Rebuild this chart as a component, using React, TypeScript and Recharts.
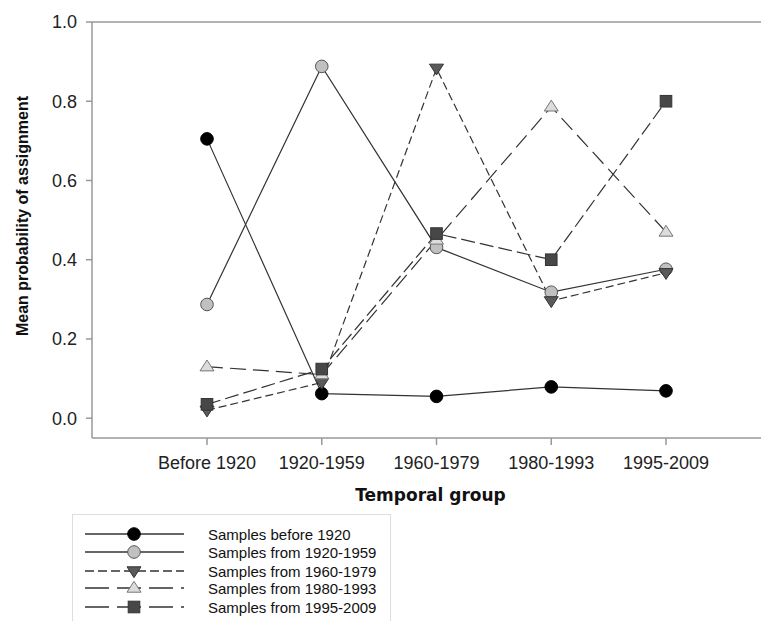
import React from 'react';
import { LineChart, Line, XAxis, YAxis, ReferenceLine, Legend } from 'recharts';

const categories = ['Before 1920', '1920-1959', '1960-1979', '1980-1993', '1995-2009'];
const before1920 = [0.705, 0.062, 0.055, 0.079, 0.069];
const from1920 = [0.287, 0.888, 0.431, 0.318, 0.376];
const from1960 = [0.02, 0.09, 0.883, 0.296, 0.367];
const from1980 = [0.13, 0.11, 0.45, 0.786, 0.47];
const from1995 = [0.035, 0.124, 0.466, 0.4, 0.8];
const yTicks = [0, 0.2, 0.4, 0.6, 0.8, 1.0];

const seriesNames = [
  'Samples before 1920',
  'Samples from 1920-1959',
  'Samples from 1960-1979',
  'Samples from 1980-1993',
  'Samples from 1995-2009',
];

const data = categories.map((c, i) => ({
  cat: c,
  s1: before1920[i],
  s2: from1920[i],
  s3: from1960[i],
  s4: from1980[i],
  s5: from1995[i],
}));

type MarkerKind = 'blackCircle' | 'grayCircle' | 'downTri' | 'upTri' | 'square';

const Marker = ({ kind, cx, cy }: { kind: MarkerKind; cx: number; cy: number }) => {
  if (kind === 'blackCircle') return <circle cx={cx} cy={cy} r={6.3} fill="#000" stroke="#000" strokeWidth={1} />;
  if (kind === 'grayCircle') return <circle cx={cx} cy={cy} r={6.3} fill="#c0c0c0" stroke="#555" strokeWidth={1} />;
  if (kind === 'downTri') {
    const s = 7;
    return (
      <polygon
        points={`${cx - s},${cy - s * 0.6} ${cx + s},${cy - s * 0.6} ${cx},${cy + s * 0.95}`}
        fill="#5a5a5a"
        stroke="#333"
        strokeWidth={1}
      />
    );
  }
  if (kind === 'upTri') {
    const s = 7;
    return (
      <polygon
        points={`${cx - s},${cy + s * 0.6} ${cx + s},${cy + s * 0.6} ${cx},${cy - s * 0.95}`}
        fill="#dcdcdc"
        stroke="#777"
        strokeWidth={1}
      />
    );
  }
  return <rect x={cx - 5.8} y={cy - 5.8} width={11.6} height={11.6} fill="#474747" stroke="#333" strokeWidth={1} />;
};

const makeDot = (kind: MarkerKind) => (props: any) => {
  const { cx, cy, index } = props;
  if (cx == null || cy == null) return <g key={index} />;
  return <Marker key={index} kind={kind} cx={cx} cy={cy} />;
};

const seriesDefs: { key: string; kind: MarkerKind; dash?: string; legendDash?: string }[] = [
  { key: 's1', kind: 'blackCircle' },
  { key: 's2', kind: 'grayCircle' },
  { key: 's3', kind: 'downTri', dash: '8 4', legendDash: '9 4' },
  { key: 's4', kind: 'upTri', dash: '16 7', legendDash: '24 8' },
  { key: 's5', kind: 'square', dash: '14 5', legendDash: '24 8' },
];

const LegendBox = () => {
  const rowY = [19, 37, 56, 73, 92];
  return (
    <div
      style={{
        width: 319,
        height: 112,
        borderLeft: '1.5px solid #dedede',
        borderRight: '1.5px solid #dedede',
        borderTop: '1.5px solid #dedede',
        background: '#fff',
        boxSizing: 'border-box',
        position: 'relative',
      }}
    >
      <svg width={319} height={112} style={{ position: 'absolute', left: 0, top: 0 }}>
        {seriesDefs.map((s, i) => (
          <g key={s.key}>
            <line
              x1={12}
              x2={111}
              y1={rowY[i]}
              y2={rowY[i]}
              stroke="#333"
              strokeWidth={1.3}
              strokeDasharray={s.legendDash}
            />
            <Marker kind={s.kind} cx={61} cy={rowY[i]} />
            <text
              x={135}
              y={rowY[i] + 5.5}
              fontFamily="'Liberation Sans', Arial, sans-serif"
              fontSize={15}
              fill="#111"
            >
              {seriesNames[i]}
            </text>
          </g>
        ))}
      </svg>
    </div>
  );
};

const YLabel = (props: any) => {
  const vb = props.viewBox || {};
  const x = (vb.x ?? 0) + 14;
  const y = (vb.y ?? 0) + (vb.height ?? 0) / 2 - 14;
  return (
    <text
      x={x}
      y={y}
      transform={`rotate(-90, ${x}, ${y})`}
      textAnchor="middle"
      dominantBaseline="central"
      fontFamily="'Liberation Sans', Arial, sans-serif"
      fontWeight="bold"
      fontSize={16}
      fill="#111"
    >
      Mean probability of assignment
    </text>
  );
};

const XLabel = (props: any) => {
  const vb = props.viewBox || {};
  const x = (vb.x ?? 0) + (vb.width ?? 0) / 2;
  const y = (vb.y ?? 0) + 63;
  return (
    <text
      x={x}
      y={y}
      textAnchor="middle"
      fontFamily="'DejaVu Sans', Verdana, sans-serif"
      fontWeight="bold"
      fontSize={17}
      fill="#111"
    >
      Temporal group
    </text>
  );
};

const tickStyle = { fontFamily: "'Liberation Sans', Arial, sans-serif", fontSize: 18, fill: '#222' };

export default function App() {
  return (
    <LineChart
      width={761}
      height={613}
      data={data}
      margin={{ top: 14, right: 0, bottom: 11, left: 0 }}
    >
      <XAxis
        dataKey="cat"
        padding={{ left: 115, right: 103 }}
        height={60}
        tickSize={7}
        tickMargin={11}
        tick={tickStyle}
        axisLine={{ stroke: '#999', strokeWidth: 1.5 }}
        tickLine={{ stroke: '#999', strokeWidth: 1.5 }}
        interval={0}
        label={<XLabel />}
      />
      <YAxis
        width={84}
        domain={[-0.05, 1]}
        ticks={yTicks}
        tickFormatter={(v: number) => v.toFixed(1)}
        tickSize={6}
        tickMargin={9}
        tick={tickStyle}
        axisLine={{ stroke: '#999', strokeWidth: 1.5 }}
        tickLine={{ stroke: '#999', strokeWidth: 1.5 }}
        allowDataOverflow
        label={<YLabel />}
      />
      <ReferenceLine y={1} stroke="#999" strokeWidth={1.5} ifOverflow="extendDomain" />
      {seriesDefs.map((s, i) => (
        <Line
          key={s.key}
          dataKey={s.key}
          type="linear"
          stroke="#333"
          strokeWidth={1.2}
          strokeDasharray={s.dash}
          dot={makeDot(s.kind)}
          activeDot={false}
          isAnimationActive={false}
          name={seriesNames[i]}
        />
      ))}
      <Legend
        content={<LegendBox />}
        wrapperStyle={{ position: 'absolute', left: 64, top: 506, width: 319, height: 112 }}
      />
    </LineChart>
  );
}
